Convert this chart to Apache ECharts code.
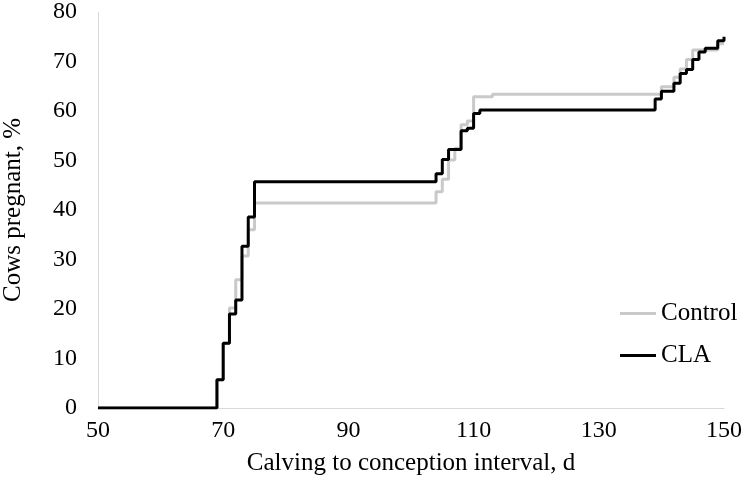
<!DOCTYPE html>
<html>
<head>
<meta charset="utf-8">
<script src="https://cdn.jsdelivr.net/npm/echarts@6/dist/echarts.min.js"></script>
<style>html,body{margin:0;padding:0;background:#fff}#c{width:744px;height:489px}</style>
</head>
<body>
<div id="c"></div>
<script>
// Days (x) and cumulative % pregnant (y)
const controlDays = [50, 69, 70, 71, 72, 73, 74, 75, 104, 105, 106, 107, 108, 109, 110, 113, 140, 142, 143, 144, 145, 149, 150];
const controlPct  = [0, 5.7, 13.1, 20.2, 25.9, 30.7, 36.0, 41.4, 43.7, 46.2, 50.1, 52.5, 57.2, 58.0, 62.9, 63.4, 64.9, 66.8, 68.5, 70.4, 72.3, 73.6, 73.6];
const claDays = [50, 69, 70, 71, 72, 73, 74, 75, 104, 105, 106, 108, 109, 110, 111, 139, 140, 142, 143, 144, 145, 146, 147, 149, 150];
const claPct  = [0, 5.7, 13.1, 19.0, 21.8, 32.7, 38.6, 45.7, 47.3, 50.2, 52.2, 56.0, 56.5, 59.5, 60.2, 62.4, 64.0, 65.6, 67.6, 68.4, 70.4, 71.9, 72.7, 74.2, 75.0];
const seriesNames = ['Control', 'CLA'];
const xTitle = 'Calving to conception interval, d';
const yTitle = 'Cows pregnant, %';

const font = '"Liberation Serif", "Times New Roman", serif';
const pairs = (xs, ys) => xs.map((x, i) => [x, ys[i]]);

const chart = echarts.init(document.getElementById('c'), null, {renderer: 'canvas'});
chart.setOption({
  animation: false,
  backgroundColor: '#fff',
  grid: {left: 98, right: 20, top: 12, bottom: 81, containLabel: false, outerBoundsMode: 'none'},
  legend: {
    orient: 'vertical', left: 620, top: 301, itemGap: 17, padding: 0,
    itemWidth: 36, itemHeight: 3, icon: 'rect',
    textStyle: {fontFamily: font, fontSize: 25, color: '#000', padding: [0, 0, 0, 0]},
    data: seriesNames
  },
  xAxis: {
    type: 'value', min: 50, max: 150, interval: 20,
    name: xTitle, nameLocation: 'middle', nameGap: 43,
    nameTextStyle: {fontFamily: font, fontSize: 25, color: '#000'},
    axisLine: {show: true, lineStyle: {color: '#d9d9d9', width: 1}},
    axisTick: {show: false}, splitLine: {show: false},
    axisLabel: {fontFamily: font, fontSize: 24, color: '#000', margin: 11}
  },
  yAxis: {
    type: 'value', min: 0, max: 80, interval: 10,
    name: yTitle, nameLocation: 'middle', nameGap: 72, nameRotate: 90,
    nameTextStyle: {fontFamily: font, fontSize: 25, color: '#000'},
    axisLine: {show: true, lineStyle: {color: '#d9d9d9', width: 1}},
    axisTick: {show: false}, splitLine: {show: false},
    axisLabel: {fontFamily: font, fontSize: 24, color: '#000', margin: 21}
  },
  series: [
    {name: seriesNames[0], type: 'line', step: 'end', symbol: 'none', z: 2,
     data: pairs(controlDays, controlPct),
     itemStyle: {color: '#c9c9c9'}, lineStyle: {color: '#c9c9c9', width: 3}},
    {name: seriesNames[1], type: 'line', step: 'end', symbol: 'none', z: 3,
     data: pairs(claDays, claPct),
     itemStyle: {color: '#000'}, lineStyle: {color: '#000', width: 3}}
  ]
});
</script>
</body>
</html>
